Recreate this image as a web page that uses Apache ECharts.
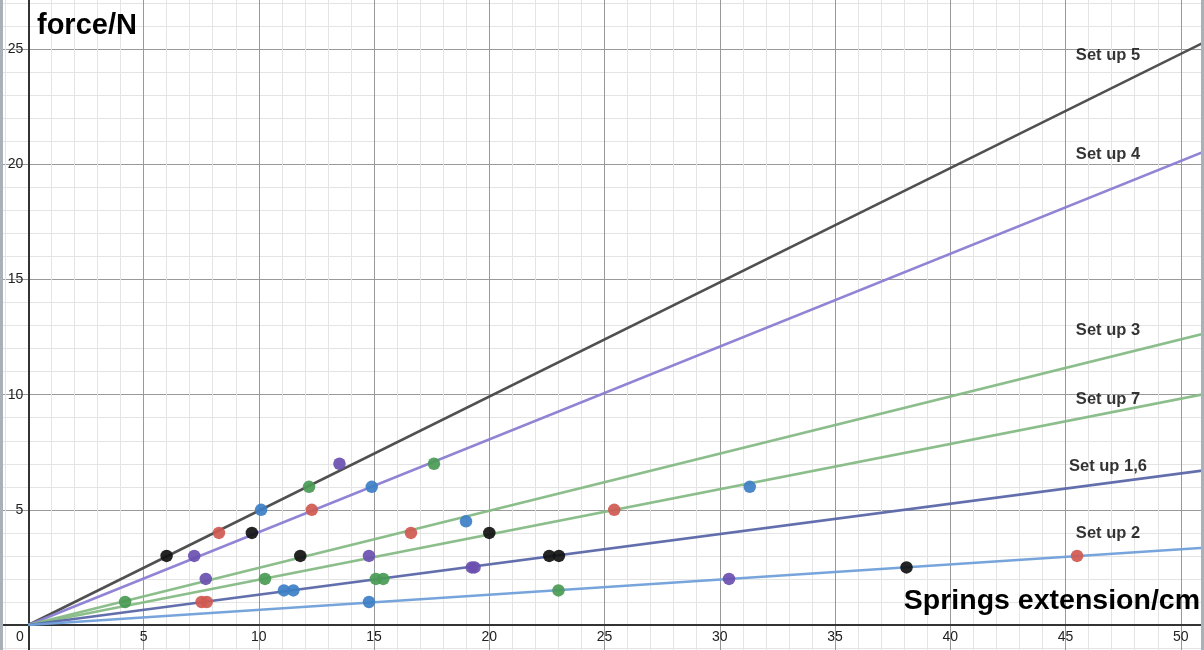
<!DOCTYPE html>
<html>
<head>
<meta charset="utf-8">
<script src="https://cdn.jsdelivr.net/npm/echarts@6/dist/echarts.min.js"></script>
<style>
html,body{margin:0;padding:0;background:#fff;}
#chart{width:1204px;height:650px;}
</style>
</head>
<body>
<div id="chart"></div>
<script>
// ---- data ----
const setupNames  = ['Set up 5', 'Set up 4', 'Set up 3', 'Set up 7', 'Set up 1,6', 'Set up 2'];
const setupSlopes = [0.496, 0.403, 0.248, 0.1965, 0.1316, 0.0658];
const labelX      = [46.84, 46.84, 46.84, 46.84, 46.84, 46.84];
const labelY      = [24.74, 20.42, 12.77, 9.81, 6.90, 3.96];

const blackPts  = [[6,3],[9.7,4],[11.8,3],[20,4],[22.6,3],[23.02,3],[38.1,2.5]];
const purplePts = [[7.2,3],[7.7,2],[13.5,7],[14.78,3],[19.24,2.5],[19.36,2.5],[30.4,2]];
const redPts    = [[7.52,1],[7.74,1],[8.27,4],[12.3,5],[16.6,4],[25.42,5],[45.5,3]];
const bluePts   = [[10.1,5],[11.09,1.5],[11.5,1.5],[14.78,1],[14.9,6],[18.99,4.5],[31.3,6]];
const greenPts  = [[4.2,1],[10.27,2],[12.18,6],[15.08,2],[15.4,2],[17.6,7],[23.0,1.5]];

const xTitle = 'Springs extension/cm';
const yTitle = 'force/N';

// ---- styles ----
const lineColors = ['#474747', '#8a7dd3', '#86ba86', '#86ba86', '#5a67a8', '#6f9fd9'];
const FONT = '"Liberation Sans", Arial, Helvetica, sans-serif';
const XS = 23.05, YS = 23.03, OX = 28.3, OY = 625, W = 1204, H = 650;

const chart = echarts.init(document.getElementById('chart'), null, {renderer: 'canvas'});

const lineSeries = setupNames.map((n, i) => ({
  name: n,
  type: 'line',
  xAxisIndex: 1, yAxisIndex: 1,
  showSymbol: false,
  silent: true,
  z: 2,
  lineStyle: {color: lineColors[i], width: 2.6, opacity: 0.95},
  data: [[0, 0], [55, 55 * setupSlopes[i]]]
}));

function dots(name, pts, color) {
  return {
    name: name, type: 'scatter', symbol: 'circle', symbolSize: 12.5, z: 5,
    xAxisIndex: 1, yAxisIndex: 1,
    itemStyle: {color: color, opacity: 0.92},
    data: pts
  };
}

const mult5 = v => Math.abs(v / 5 - Math.round(v / 5)) < 1e-6;

const option = {
  animation: false,
  backgroundColor: '#ffffff',
  grid: [
    {left: OX - 5 * XS, right: W - (OX + 55 * XS), top: OY - 30 * YS, bottom: H - (OY + 5 * YS),
     outerBoundsMode: 'none', containLabel: false},
    {left: OX, right: 0, top: 0, bottom: H - OY, outerBoundsMode: 'none', containLabel: false}
  ],
  xAxis: [
    {
      gridIndex: 0, type: 'value', min: -5, max: 55, interval: 5,
      axisLine: {onZero: true, lineStyle: {color: '#333', width: 2}},
      axisTick: {show: false}, axisLabel: {show: false},
      minorTick: {show: false, splitNumber: 5},
      splitLine: {show: true, lineStyle: {color: '#999', width: 1}},
      minorSplitLine: {show: true, lineStyle: {color: '#e4e4e4', width: 1}}
    },
    {
      gridIndex: 1, type: 'value', min: 0, max: (W - OX) / XS, interval: 5,
      axisLine: {show: false}, axisTick: {show: false}, splitLine: {show: false},
      axisLabel: {
        margin: 5, color: '#222', fontSize: 14, fontFamily: FONT, showMaxLabel: false,
        formatter: v => v === 0 ? '{z|0}' : (mult5(v) ? String(v) : ''),
        rich: {z: {fontSize: 14, fontFamily: FONT, color: '#222', padding: [0, 17, 0, 0]}}
      }
    }
  ],
  yAxis: [
    {
      gridIndex: 0, type: 'value', min: -5, max: 30, interval: 5,
      axisLine: {onZero: true, lineStyle: {color: '#333', width: 2}},
      axisTick: {show: false}, axisLabel: {show: false},
      minorTick: {show: false, splitNumber: 5},
      splitLine: {show: true, lineStyle: {color: '#999', width: 1}},
      minorSplitLine: {show: true, lineStyle: {color: '#e4e4e4', width: 1}}
    },
    {
      gridIndex: 1, type: 'value', min: 0, max: OY / YS, interval: 5,
      axisLine: {show: false}, axisTick: {show: false}, splitLine: {show: false},
      axisLabel: {
        margin: 5, color: '#222', fontSize: 14, fontFamily: FONT, showMaxLabel: false,
        formatter: v => (v === 0 || !mult5(v)) ? '' : String(v)
      }
    }
  ],
  series: [
    ...lineSeries,
    dots('black', blackPts, '#111111'),
    dots('purple', purplePts, '#6a4fb0'),
    dots('red', redPts, '#cf5a52'),
    dots('blue', bluePts, '#3d7fc5'),
    dots('green', greenPts, '#4a9a55'),
    {
      name: 'labels', type: 'scatter', symbolSize: 0, z: 6, silent: true,
      xAxisIndex: 1, yAxisIndex: 1,
      data: setupNames.map((n, i) => ({value: [labelX[i], labelY[i]], name: n})),
      label: {
        show: true, position: 'inside', formatter: p => p.name,
        color: '#000', fontWeight: 'bold', fontSize: 16.5, fontFamily: FONT
      }
    }
  ],
  graphic: [
    {type: 'text', left: 37, top: 11, z: 10,
     style: {text: yTitle, fill: '#000', font: 'bold 29px ' + FONT}},
    {type: 'text', right: 4, top: 587, z: 10,
     style: {text: xTitle, fill: '#000', font: 'bold 28.5px ' + FONT}},
    {type: 'rect', left: 0, top: 0, z: 20, shape: {width: 3, height: 650}, style: {fill: '#aab0b8'}},
    {type: 'rect', left: 1201, top: 0, z: 20, shape: {width: 3, height: 650}, style: {fill: '#aab0b8'}}
  ]
};

chart.setOption(option);
</script>
</body>
</html>
